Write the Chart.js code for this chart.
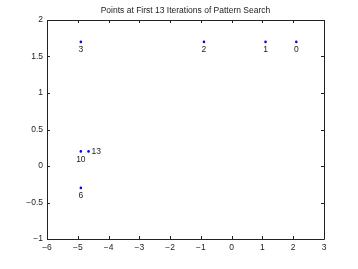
<!DOCTYPE html>
<html>
<head>
<meta charset="utf-8">
<script src="https://cdn.jsdelivr.net/npm/chart.js@4"></script>
<style>
  body { margin: 0; background: #fff; }
</style>
</head>
<body>
<canvas id="myChart" width="358" height="269"></canvas>
<script>
// iterations shown and where pattern search was at each
const iterations = ['0', '1', '2', '3', '6', '10', '13'];
const xValues = [2.1, 1.1, -0.9, -4.9, -4.9, -4.9, -4.65];
const yValues = [1.7, 1.7, 1.7, 1.7, -0.3, 0.2, 0.2];

const xTicks = [-6, -5, -4, -3, -2, -1, 0, 1, 2, 3];
const xTickLabels = ['\u22126', '\u22125', '\u22124', '\u22123', '\u22122', '\u22121', '0', '1', '2', '3'];
const yTicks = [-1, -0.5, 0, 0.5, 1, 1.5, 2];
const yTickLabels = ['\u22121', '\u22120.5', '0', '0.5', '1', '1.5', '2'];

const chartTitle = 'Points at First 13 Iterations of Pattern Search';

const FONT = '"Liberation Sans", Arial, Helvetica, sans-serif';
const INK = '#222';

function tickLabel(ticks, labels) {
  return function (value) {
    const i = ticks.findIndex(t => Math.abs(t - value) < 1e-9);
    return i >= 0 ? labels[i] : '';
  };
}

// matlab style box with inward ticks on all four sides, title over the axes, iteration labels
const boxPlugin = {
  id: 'box',
  afterDraw(chart) {
    const c = chart.ctx;
    const a = chart.chartArea;
    const xs = chart.scales.x, ys = chart.scales.y;
    c.save();
    c.strokeStyle = INK;
    c.lineWidth = 1;
    c.beginPath();
    c.rect(Math.round(a.left) + 0.5, Math.round(a.top) + 0.5,
           Math.round(a.right - a.left), Math.round(a.bottom - a.top));
    xTicks.forEach(v => {
      const px = Math.round(xs.getPixelForValue(v)) + 0.5;
      c.moveTo(px, a.bottom); c.lineTo(px, a.bottom - 3);
      c.moveTo(px, a.top); c.lineTo(px, a.top + 3);
    });
    yTicks.forEach(v => {
      const py = Math.round(ys.getPixelForValue(v)) + 0.5;
      c.moveTo(a.left, py); c.lineTo(a.left + 3, py);
      c.moveTo(a.right, py); c.lineTo(a.right - 3, py);
    });
    c.stroke();

    c.fillStyle = INK;
    c.font = '8.5px ' + FONT;
    c.textAlign = 'center';
    c.textBaseline = 'alphabetic';
    c.fillText(chartTitle, (a.left + a.right) / 2, a.top - 7);

    iterations.forEach((lab, i) => {
      const px = xs.getPixelForValue(xValues[i]);
      const py = ys.getPixelForValue(yValues[i]);
      c.textBaseline = 'middle';
      if (i === iterations.length - 1) {
        c.textAlign = 'left';
        c.fillText(lab, px + 3, py);
      } else {
        c.textAlign = 'center';
        c.fillText(lab, px, py + 8);
      }
    });
    c.restore();
  }
};

const ctx = document.getElementById('myChart').getContext('2d');

new Chart(ctx, {
  type: 'scatter',
  data: {
    datasets: [{
      data: xValues.map((x, i) => ({ x: x, y: yValues[i] })),
      pointRadius: 1.3,
      pointHoverRadius: 1.3,
      borderWidth: 0,
      backgroundColor: '#0000ff'
    }]
  },
  options: {
    responsive: false,
    animation: false,
    layout: {
      padding: { left: 0, right: 34, top: 20, bottom: 0 }
    },
    scales: {
      x: {
        type: 'linear',
        min: -6,
        max: 3,
        grid: { display: false, drawTicks: false },
        border: { display: false },
        afterFit(scale) { scale.height = 30; },
        afterBuildTicks(scale) { scale.ticks = xTicks.map(v => ({ value: v })); },
        ticks: {
          padding: 4,
          color: INK,
          font: { family: FONT, size: 8.5 },
          maxRotation: 0,
          autoSkip: false,
          callback: tickLabel(xTicks, xTickLabels)
        }
      },
      y: {
        type: 'linear',
        min: -1,
        max: 2,
        grid: { display: false, drawTicks: false },
        border: { display: false },
        afterFit(scale) { scale.width = 47; },
        afterBuildTicks(scale) { scale.ticks = yTicks.map(v => ({ value: v })); },
        ticks: {
          padding: 4,
          color: INK,
          font: { family: FONT, size: 8.5 },
          autoSkip: false,
          callback: tickLabel(yTicks, yTickLabels)
        }
      }
    },
    plugins: {
      legend: { display: false },
      tooltip: { enabled: false },
      title: { display: false }
    }
  },
  plugins: [boxPlugin]
});
</script>
</body>
</html>
